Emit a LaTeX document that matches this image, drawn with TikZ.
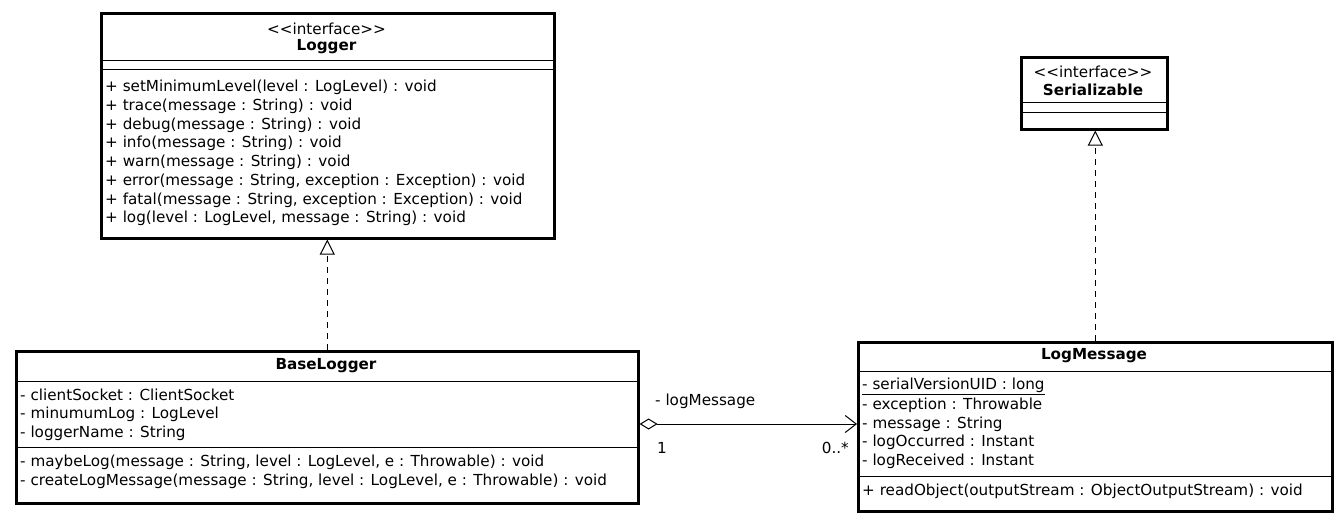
\documentclass[tikz,border=0pt]{standalone}
\usepackage{fontspec}
\setmainfont{DejaVu Sans}[Ligatures=NoCommon]
\usetikzlibrary{arrows.meta}
\newcommand{\stereo}{<{}<interface>{}>}
\begin{document}
\begin{tikzpicture}[x=1pt,y=1pt,
  classbox/.style={draw, line width=2.6pt, anchor=north west, inner sep=0pt, fill=white},
  sepline/.style={line width=1pt},
  txt/.style={anchor=west, inner sep=0pt, font=\fontsize{15.2}{17}\selectfont},
  ctxt/.style={anchor=center, inner sep=0pt, font=\fontsize{15.2}{17}\selectfont},
  btxt/.style={anchor=center, inner sep=0pt, font=\fontsize{15.2}{17}\selectfont\bfseries},
  realize/.style={line width=1pt, dash pattern=on 6pt off 5pt, -{Triangle[open, length=15pt, width=15pt, line width=1pt]}},
  assoc/.style={line width=1pt, {Diamond[open, length=18pt, width=11pt, line width=1pt]}-{Straight Barb[length=11pt, width=17pt, line width=1pt]}},
  mult/.style={inner sep=0pt, font=\fontsize{15.2}{17}\selectfont}
]
\useasboundingbox (0,0) rectangle (1341,-521);

% Logger
\node[classbox, minimum width=453pt, minimum height=225pt] (logger) at (100,-12) {};
\node[ctxt] (lgst) at (326.5,-29) {\stereo};
\node[btxt] (lgname) at (326.5,-47) {Logger};
\draw[sepline] (100,-61) -- (553,-61);
\draw[sepline] (100,-70) -- (553,-70);
\node[txt] (lg1) at (105,-87) {+ setMinimumLevel(level : LogLevel) : void};
\node[txt] (lg2) at (105,-106) {+ trace(message : String) : void};
\node[txt] (lg3) at (105,-125) {+ debug(message : String) : void};
\node[txt] (lg4) at (105,-143) {+ info(message : String) : void};
\node[txt] (lg5) at (105,-162) {+ warn(message : String) : void};
\node[txt] (lg6) at (105,-181) {+ error(message : String, exception : Exception) : void};
\node[txt] (lg7) at (105,-200) {+ fatal(message : String, exception : Exception) : void};
\node[txt] (lg8) at (105,-218) {+ log(level : LogLevel, message : String) : void};

% Serializable
\node[classbox, minimum width=146pt, minimum height=72pt] (ser) at (1020,-56) {};
\node[ctxt] (sest) at (1093,-72) {\stereo};
\node[btxt] (sename) at (1093,-90) {Serializable};
\draw[sepline] (1020,-103) -- (1166,-103);
\draw[sepline] (1020,-113) -- (1166,-113);

% BaseLogger
\node[classbox, minimum width=622pt, minimum height=152pt] (base) at (15,-350) {};
\node[btxt] (bname) at (326,-366) {BaseLogger};
\draw[sepline] (15,-381) -- (637,-381);
\node[txt] (b1) at (20,-395) {- clientSocket : ClientSocket};
\node[txt] (b2) at (20,-414) {- minumumLog : LogLevel};
\node[txt] (b3) at (20,-433) {- loggerName : String};
\draw[sepline] (15,-447) -- (637,-447);
\node[txt] (b4) at (20,-462) {- maybeLog(message : String, level : LogLevel, e : Throwable) : void};
\node[txt] (b5) at (20,-481) {- createLogMessage(message : String, level : LogLevel, e : Throwable) : void};

% LogMessage
\node[classbox, minimum width=474pt, minimum height=169pt] (msg) at (857,-341) {};
\node[btxt] (mname) at (1094,-356) {LogMessage};
\draw[sepline] (857,-371) -- (1331,-371);
\node[txt] (m1) at (862,-386) {\underline{- serialVersionUID : long}};
\node[txt] (m2) at (862,-405) {- exception : Throwable};
\node[txt] (m3) at (862,-424) {- message : String};
\node[txt] (m4) at (862,-442) {- logOccurred : Instant};
\node[txt] (m5) at (862,-461) {- logReceived : Instant};
\draw[sepline] (857,-476) -- (1331,-476);
\node[txt] (m6) at (862,-491) {+ readObject(outputStream : ObjectOutputStream) : void};

% connectors
\draw[realize] (base.north) -- (base.north |- logger.south);
\draw[realize] (msg.north) -- (msg.north |- ser.south);
\coordinate (aend) at (msg.west |- 0,-424);
\coordinate (astart) at (base.east |- 0,-424);
\draw[assoc] (astart) -- (aend);
\node[mult, anchor=west] (rolelbl) at (655,-401) {- logMessage};
\node[mult, anchor=west] (m1lbl) at (657,-448) {1};
\node[mult, anchor=east] (m2lbl) at (849,-448) {0..*};
\end{tikzpicture}
\end{document}
